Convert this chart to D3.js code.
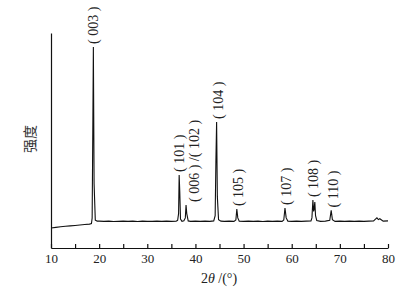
<!DOCTYPE html>
<html>
<head>
<meta charset="utf-8">
<script src="https://cdn.jsdelivr.net/npm/d3@7"></script>
<style>
  body { margin: 0; background: #fff; }
  svg { display: block; }
  .tick text { font-family: "Liberation Serif", serif; font-size: 13px; fill: #222; }
</style>
</head>
<body>
<script>
// XRD pattern, 2theta (deg) vs intensity (a.u.)
var angles = [10, 11, 12, 13, 14, 15, 16, 17, 18, 18.4, 18.55, 18.7, 18.8, 18.95, 19.2, 19.6,
  20, 21, 22, 23, 24, 25, 26, 27, 28, 29, 30, 31, 32, 33, 34, 35, 36, 36.3, 36.5, 36.62, 36.75,
  36.9, 37.2, 37.6, 37.9, 38.05, 38.2, 38.5, 39, 40, 41, 42, 43, 43.8, 44.1, 44.25, 44.4, 44.55,
  44.8, 45.3, 46, 47, 48, 48.4, 48.6, 48.8, 49.1, 50, 51, 52, 53, 54, 55, 56, 57, 58, 58.35,
  58.6, 58.85, 59.2, 60, 61, 62, 63, 64, 64.2, 64.4, 64.55, 64.65, 64.8, 64.95, 65.2, 66, 67,
  67.9, 68.2, 68.45, 69, 70, 71, 72, 73, 74, 75, 76, 77, 77.4, 77.7, 78, 78.3, 79, 80];
var intensity = [9.3, 9.6, 9.9, 10.1, 10.3, 10.5, 10.7, 10.9, 11.1, 11.4, 14, 60, 93.5, 30, 13.0, 12.5,
  12.5, 12.4, 12.5, 12.3, 12.4, 12.5, 12.4, 12.5, 12.3, 12.5, 12.4, 12.4, 12.5, 12.4, 12.5, 12.4, 12.5, 12.8, 16, 34, 26,
  13.5, 12.4, 12.7, 14, 20, 16, 12.6, 12.4, 12.5, 12.4, 12.5, 12.4, 12.6, 15, 40, 58.6, 24,
  13.2, 12.5, 12.4, 12.5, 12.4, 13, 18.1, 14, 12.5, 12.4, 12.5, 12.4, 12.5, 12.3, 12.5, 12.4, 12.5, 12.4, 13,
  18.6, 14, 12.5, 12.4, 12.5, 12.4, 12.5, 12.6, 14, 22.3, 17, 18, 21.4, 15, 12.8, 12.4, 12.5,
  12.9, 17.5, 13.2, 12.4, 12.5, 12.4, 12.5, 12.4, 12.5, 12.4, 12.5, 12.6, 13.4, 14, 13.2, 13.6, 12.5, 12.6];

// peak labels: text, label centre (2theta), peak height
var peakNames = ["(003)", "(101)", "(006) /(102)", "(104)", "(105)", "(107)", "(108)", "(110)"];
var labelAngles = [18.9, 36.65, 39.9, 44.7, 49.0, 59.0, 64.6, 68.6];
var peakHeights = [93.5, 34, 20, 58.6, 18.1, 18.6, 22.3, 17.5];

var xTicks = [10, 15, 20, 25, 30, 35, 40, 45, 50, 55, 60, 65, 70, 75, 80];

var width = 411, height = 300;

var svg = d3.select("body").append("svg")
    .attr("width", width)
    .attr("height", height);

var x = d3.scaleLinear().domain([10, 80]).range([51, 388]);
var y = d3.scaleLinear().domain([0, 100]).range([248, 33]);

var data = angles.map(function (a, i) { return {a: a, v: intensity[i]}; });

var line = d3.line()
    .x(function (d) { return x(d.a); })
    .y(function (d) { return y(d.v); });

svg.append("path")
    .datum(data)
    .attr("d", line)
    .style("fill", "none")
    .style("stroke", "#111")
    .style("stroke-width", 1.1);

// bottom axis, ticks pointing inward
var xAxis = svg.append("g")
    .attr("transform", "translate(0," + y(0) + ")")
    .call(d3.axisBottom(x)
        .tickValues(xTicks)
        .tickSize(-4)
        .tickSizeOuter(0)
        .tickPadding(6)
        .tickFormat(function (d) { return d % 10 === 0 ? d : ""; }));
xAxis.select(".domain").style("stroke", "#111").style("stroke-width", 1.2);
xAxis.selectAll(".tick line").style("stroke", "#111").style("stroke-width", 1.2);

// left axis: plain line only
var yAxis = svg.append("g")
    .attr("transform", "translate(" + x(10) + ",0)")
    .call(d3.axisLeft(y).tickValues([]).tickSizeOuter(0));
yAxis.select(".domain").style("stroke", "#111").style("stroke-width", 1.2);

// peak labels, rotated
peakNames.forEach(function (name, i) {
    var lx = x(labelAngles[i]), ly = y(peakHeights[i]) - 3;
    svg.append("text")
        .attr("transform", "translate(" + lx + "," + ly + ") rotate(-90)")
        .attr("dominant-baseline", "central")
        .style("font-family", "Liberation Serif, serif")
        .style("font-size", "14px")
        .style("fill", "#222")
        .text(name.replace(/\(/g, "( ").replace(/\)/g, " )"));
});

// axis titles
var xt = svg.append("text")
    .attr("x", 219)
    .attr("y", 283)
    .attr("text-anchor", "middle")
    .style("font-family", "Liberation Serif, serif")
    .style("font-size", "14px")
    .style("fill", "#222");
xt.append("tspan").text("2");
xt.append("tspan").style("font-style", "italic").text("θ");
xt.append("tspan").text(" /(°)");

svg.append("text")
    .attr("transform", "translate(29,139) rotate(-90)")
    .attr("text-anchor", "middle")
    .attr("dominant-baseline", "central")
    .style("font-family", "Noto Sans CJK SC, sans-serif")
    .style("font-size", "14px")
    .style("fill", "#333")
    .text("强度");
</script>
</body>
</html>
